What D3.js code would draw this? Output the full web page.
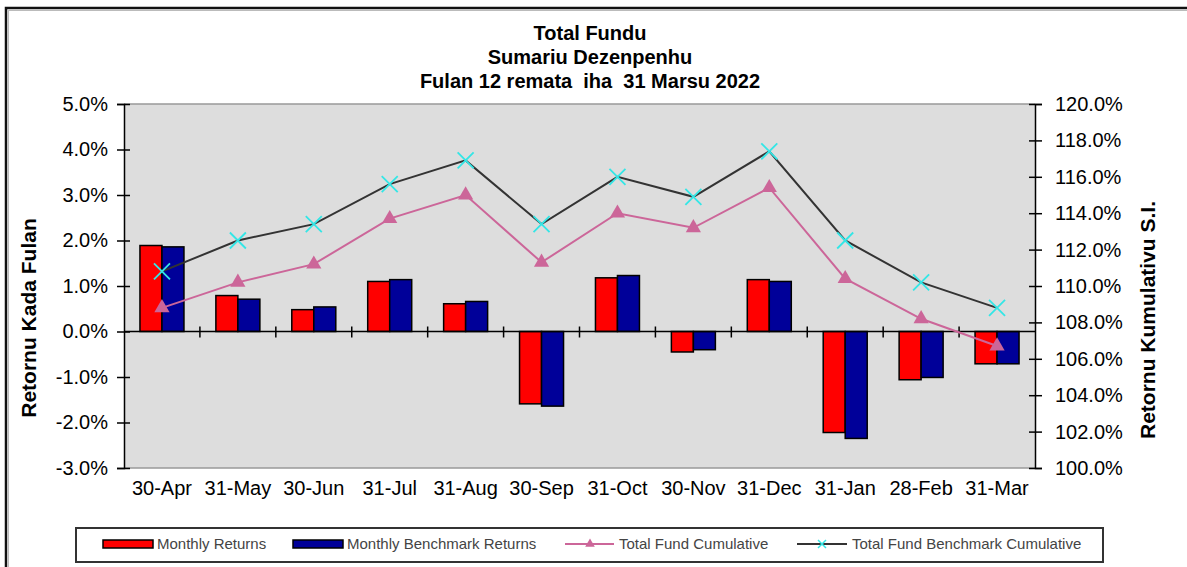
<!DOCTYPE html>
<html>
<head>
<meta charset="utf-8">
<script src="https://cdn.jsdelivr.net/npm/d3@7"></script>
<style>
  html, body { margin: 0; padding: 0; background: #fff; }
  svg { display: block; font-family: "Liberation Sans", Arial, sans-serif; }
  .title { white-space: pre; }
</style>
</head>
<body>
<svg id="chart" width="1187" height="567"></svg>
<script>
// ---------- data ----------
const categories = ["30-Apr","31-May","30-Jun","31-Jul","31-Aug","30-Sep","31-Oct","30-Nov","31-Dec","31-Jan","28-Feb","31-Mar"];
const monthlyReturns   = [1.89, 0.79, 0.48, 1.10, 0.61, -1.59, 1.18, -0.45, 1.14, -2.22, -1.06, -0.71];
const monthlyBenchmark = [1.86, 0.71, 0.54, 1.14, 0.66, -1.64, 1.23, -0.40, 1.10, -2.35, -1.01, -0.71];
const fundCumulative      = [108.8, 110.2, 111.2, 113.7, 115.0, 111.3, 114.0, 113.2, 115.4, 110.4, 108.2, 106.7];
const benchmarkCumulative = [110.8, 112.5, 113.4, 115.6, 116.9, 113.4, 116.0, 114.9, 117.4, 112.5, 110.2, 108.8];
const leftTicks  = [-3, -2, -1, 0, 1, 2, 3, 4, 5];
const rightTicks = [100, 102, 104, 106, 108, 110, 112, 114, 116, 118, 120];
const titleLines = ["Total Fundu", "Sumariu Dezenpenhu", "Fulan 12 remata  iha  31 Marsu 2022"];
const legendLabels = ["Monthly Returns", "Monthly Benchmark Returns", "Total Fund Cumulative", "Total Fund Benchmark Cumulative"];

// ---------- layout ----------
const svg = d3.select("#chart");
const plotL = 124, plotR = 1035, plotT = 104, plotB = 468;
const RED = "#ff0000", BLUE = "#000099", PINK = "#cc6699", CYAN = "#33e6e6", DARK = "#333333";

const x = d3.scaleBand().domain(categories).range([plotL, plotR]).paddingInner(0).paddingOuter(0);
const yL = d3.scaleLinear().domain([-3, 5]).range([plotB, plotT]);
const yR = d3.scaleLinear().domain([100, 120]).range([plotB, plotT]);
const bw = x.bandwidth();
const barW = 22;

// outer frame
svg.append("rect").attr("x", 6).attr("y", 8).attr("width", 1200).attr("height", 600)
  .attr("fill", "none").attr("stroke", "#111").attr("stroke-width", 2.5);
svg.append("rect").attr("x", 8.5).attr("y", 10.5).attr("width", 1200).attr("height", 600)
  .attr("fill", "none").attr("stroke", "#bbb").attr("stroke-width", 1);

// title
svg.append("g").selectAll("text").data(titleLines).join("text")
  .attr("class", "title").attr("xml:space", "preserve")
  .attr("x", 590).attr("y", (d, i) => 40 + i * 24)
  .attr("text-anchor", "middle").attr("font-weight", "bold").attr("font-size", 20)
  .attr("fill", "#000").text(d => d);

// plot background
svg.append("rect").attr("x", plotL).attr("y", plotT).attr("width", plotR - plotL).attr("height", plotB - plotT)
  .attr("fill", "#dddddd");
svg.append("line").attr("x1", plotL).attr("x2", plotR).attr("y1", plotT).attr("y2", plotT)
  .attr("stroke", "#999").attr("stroke-width", 1.5);
svg.append("line").attr("x1", plotL).attr("x2", plotR).attr("y1", plotB).attr("y2", plotB)
  .attr("stroke", "#999").attr("stroke-width", 1.5);

// left axis
const gL = svg.append("g").attr("transform", `translate(${plotL},0)`)
  .call(d3.axisLeft(yL).tickValues(leftTicks).tickFormat(d => d.toFixed(1) + "%").tickSize(7).tickPadding(9));
gL.select(".domain").attr("stroke", "#000").attr("stroke-width", 1.5);
gL.selectAll(".tick line").attr("x1", 6).attr("x2", -7).attr("stroke", "#000").attr("stroke-width", 1.5);
gL.selectAll(".tick text").attr("font-size", 20).attr("fill", "#000").attr("font-family", "Liberation Sans, Arial, sans-serif");

// right axis
const gR = svg.append("g").attr("transform", `translate(${plotR},0)`)
  .call(d3.axisRight(yR).tickValues(rightTicks).tickFormat(d => d.toFixed(1) + "%").tickSize(7).tickPadding(13));
gR.select(".domain").attr("stroke", "#000").attr("stroke-width", 1.5);
gR.selectAll(".tick line").attr("x1", -6).attr("x2", 7).attr("stroke", "#000").attr("stroke-width", 1.5);
gR.selectAll(".tick text").attr("font-size", 20).attr("fill", "#000").attr("font-family", "Liberation Sans, Arial, sans-serif");

// category labels
const gX = svg.append("g").attr("transform", `translate(0,${plotB})`)
  .call(d3.axisBottom(x).tickSize(0).tickPadding(13));
gX.select(".domain").remove();
gX.selectAll(".tick text").attr("font-size", 20).attr("fill", "#000").attr("font-family", "Liberation Sans, Arial, sans-serif");

// axis titles
svg.append("text").attr("transform", `translate(36,318) rotate(-90)`)
  .attr("text-anchor", "middle").attr("font-weight", "bold").attr("font-size", 21).text("Retornu Kada Fulan");
svg.append("text").attr("transform", `translate(1155,320) rotate(-90)`)
  .attr("text-anchor", "middle").attr("font-weight", "bold").attr("font-size", 21).text("Retornu Kumulativu S.I.");

// bars
const barData = categories.map((c, i) => ({ c, r: monthlyReturns[i], b: monthlyBenchmark[i] }));
const gBars = svg.append("g");
gBars.selectAll("rect.red").data(barData).join("rect").attr("class", "red")
  .attr("x", d => x(d.c) + bw / 2 - barW).attr("width", barW)
  .attr("y", d => yL(Math.max(0, d.r))).attr("height", d => Math.abs(yL(d.r) - yL(0)))
  .attr("fill", RED).attr("stroke", "#000").attr("stroke-width", 1.5);
gBars.selectAll("rect.blue").data(barData).join("rect").attr("class", "blue")
  .attr("x", d => x(d.c) + bw / 2).attr("width", barW)
  .attr("y", d => yL(Math.max(0, d.b))).attr("height", d => Math.abs(yL(d.b) - yL(0)))
  .attr("fill", BLUE).attr("stroke", "#000").attr("stroke-width", 1.5);

// zero axis with category ticks
const y0 = yL(0);
svg.append("line").attr("x1", plotL).attr("x2", plotR).attr("y1", y0).attr("y2", y0)
  .attr("stroke", "#000").attr("stroke-width", 1.5);
svg.append("g").selectAll("line").data(categories.slice(1)).join("line")
  .attr("x1", d => x(d)).attr("x2", d => x(d)).attr("y1", y0 - 5).attr("y2", y0 + 6)
  .attr("stroke", "#000").attr("stroke-width", 1.5);

// lines
const cx = i => x(categories[i]) + bw / 2;
const line = d3.line().x((d, i) => cx(i)).y(d => yR(d));
svg.append("path").datum(benchmarkCumulative).attr("d", line)
  .attr("fill", "none").attr("stroke", DARK).attr("stroke-width", 2);
svg.append("path").datum(fundCumulative).attr("d", line)
  .attr("fill", "none").attr("stroke", PINK).attr("stroke-width", 2);

// markers
const tri = d3.symbol().type(d3.symbolTriangle).size(100);
svg.append("g").selectAll("path").data(fundCumulative).join("path")
  .attr("transform", (d, i) => `translate(${cx(i)},${yR(d)})`)
  .attr("d", tri).attr("fill", PINK);
const xs = 8;
svg.append("g").selectAll("path").data(benchmarkCumulative).join("path")
  .attr("transform", (d, i) => `translate(${cx(i)},${yR(d)})`)
  .attr("d", `M${-xs},${-xs}L${xs},${xs}M${-xs},${xs}L${xs},${-xs}`)
  .attr("stroke", CYAN).attr("stroke-width", 1.8).attr("fill", "none");

// legend
const lg = svg.append("g");
lg.append("rect").attr("x", 76).attr("y", 528).attr("width", 1027).attr("height", 34)
  .attr("fill", "#fff").attr("stroke", "#333").attr("stroke-width", 2);
const ly = 544;
const swatchX = [103, 293, 565, 797];
const textX = [157, 347, 619, 852];
// bar swatches
[RED, BLUE].forEach((col, i) => {
  lg.append("rect").attr("x", swatchX[i]).attr("y", ly - 4).attr("width", 50).attr("height", 8)
    .attr("fill", col).attr("stroke", "#000").attr("stroke-width", 1.5);
});
// line swatches
lg.append("line").attr("x1", swatchX[2]).attr("x2", swatchX[2] + 49).attr("y1", ly).attr("y2", ly)
  .attr("stroke", PINK).attr("stroke-width", 2);
lg.append("path").attr("transform", `translate(${swatchX[2] + 25},${ly})`)
  .attr("d", d3.symbol().type(d3.symbolTriangle).size(40)).attr("fill", PINK);
lg.append("line").attr("x1", swatchX[3]).attr("x2", swatchX[3] + 50).attr("y1", ly).attr("y2", ly)
  .attr("stroke", DARK).attr("stroke-width", 2);
lg.append("path").attr("transform", `translate(${swatchX[3] + 25},${ly})`)
  .attr("d", "M-4,-4L4,4M-4,4L4,-4").attr("stroke", CYAN).attr("stroke-width", 1.5);
lg.selectAll("text").data(legendLabels).join("text")
  .attr("x", (d, i) => textX[i]).attr("y", ly + 5)
  .attr("font-size", 15).attr("fill", "#444").text(d => d);
</script>
</body>
</html>
